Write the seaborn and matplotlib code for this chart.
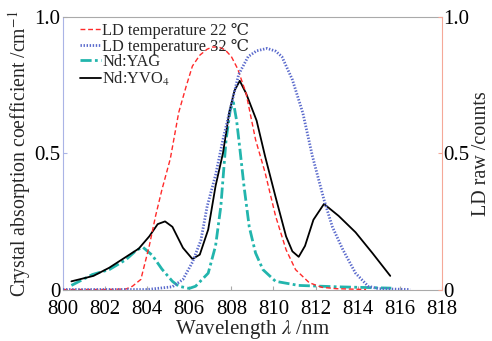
import matplotlib
matplotlib.use("Agg")
import matplotlib.pyplot as plt
import seaborn as sns

# LD spectrum at 22 C (right axis)
x_ld22 = [800.0, 801.0, 802.0, 803.0, 803.3, 803.7, 804.1, 804.4, 804.7, 805.1, 805.5, 805.85,
          806.15, 806.5, 806.85, 807.1, 807.4, 807.7, 808.0, 808.3, 808.7, 809.15, 809.6, 810.1,
          810.6, 811.05, 811.7, 812.3, 813.0, 814.4]
y_ld22 = [0.0, 0.0, 0.0, 0.002, 0.012, 0.037, 0.16, 0.27, 0.366, 0.48, 0.65, 0.745,
          0.82, 0.86, 0.882, 0.89, 0.89, 0.88, 0.855, 0.81, 0.72, 0.55, 0.43, 0.27,
          0.146, 0.073, 0.025, 0.008, 0.003, 0.0]

# LD spectrum at 32 C (right axis)
x_ld32 = [800.0, 802.0, 804.0, 805.2, 805.7, 806.15, 806.55, 806.85, 807.25, 807.6, 808.0, 808.35,
          808.8, 809.2, 809.7, 810.1, 810.4, 810.9, 811.4, 811.85, 812.4, 812.8, 813.3, 813.9,
          814.5, 815.0, 816.5]
y_ld32 = [0.0, 0.0, 0.0, 0.01, 0.037, 0.10, 0.18, 0.305, 0.42, 0.55, 0.68, 0.79,
          0.855, 0.876, 0.885, 0.875, 0.855, 0.77, 0.647, 0.49, 0.33, 0.23, 0.146, 0.06,
          0.012, 0.003, 0.0]

# Nd:YAG absorption (left axis)
x_yag = [800.4, 801.4, 802.2, 803.0, 803.5, 803.8, 804.25, 804.7, 805.2, 805.5, 806.0, 806.3,
         806.9, 807.25, 807.5, 807.75, 807.95, 808.1, 808.25, 808.4, 808.6, 808.85, 809.15, 809.5,
         810.1, 811.2, 813.0, 815.6]
y_yag = [0.015, 0.055, 0.073, 0.11, 0.145, 0.155, 0.125, 0.075, 0.03, 0.012, 0.004, 0.012,
         0.06, 0.16, 0.305, 0.55, 0.66, 0.686, 0.62, 0.52, 0.38, 0.23, 0.134, 0.073,
         0.03, 0.015, 0.01, 0.005]

# Nd:YVO4 absorption (left axis)
x_yvo = [800.4, 801.45, 802.2, 803.0, 803.6, 804.1, 804.5, 804.85, 805.2, 805.7, 806.15, 806.5,
         806.9, 807.25, 807.6, 807.9, 808.15, 808.4, 808.7, 809.2, 809.6, 810.1, 810.6, 810.9,
         811.2, 811.5, 811.9, 812.4, 813.1, 813.9, 814.7, 815.55]
y_yvo = [0.03, 0.05, 0.08, 0.12, 0.15, 0.195, 0.24, 0.25, 0.23, 0.153, 0.112, 0.128,
         0.22, 0.38, 0.50, 0.65, 0.73, 0.766, 0.72, 0.62, 0.49, 0.34, 0.195, 0.14,
         0.12, 0.16, 0.256, 0.314, 0.27, 0.21, 0.134, 0.05]

x_ticks = [800, 802, 804, 806, 808, 810, 812, 814, 816, 818]
y_ticks = [0, 0.5, 1.0]
y_ticklabels = ["0", "0.5", "1.0"]

sns.set_style("ticks")
plt.rcParams["font.family"] = ["Liberation Serif", "DejaVu Serif", "DejaVu Sans"]
plt.rcParams["mathtext.fontset"] = "stix"

fig = plt.figure(figsize=(4.92, 3.41), dpi=100)
ax = fig.add_axes([0.128, 0.151, 0.770, 0.799])
ax2 = ax.twinx()

sns.lineplot(x=x_ld22, y=y_ld22, ax=ax2, color="#ff2a2a", lw=1.0, linestyle=(0, (3.5, 2)),
             label="LD temperature 22 \u2103", legend=False)
sns.lineplot(x=x_ld32, y=y_ld32, ax=ax2, color="#5a6acc", lw=2.0, linestyle=(0, (0.5, 0.6)),
             label="LD temperature 32 \u2103", legend=False)
sns.lineplot(x=x_yag, y=y_yag, ax=ax, color="#22b5ad", lw=2.0, linestyle=(0, (4, 1.2, 1, 1.2)),
             label="Nd:YAG", legend=False)
sns.lineplot(x=x_yvo, y=y_yvo, ax=ax, color="black", lw=1.3,
             label="Nd:YVO$_4$", legend=False)

for a in (ax, ax2):
    a.set_xlim(800, 818)
    a.set_ylim(0, 1.0)
    a.set_yticks(y_ticks)
    a.set_yticklabels(y_ticklabels)

ax.set_xticks(x_ticks)
ax.tick_params(axis="both", direction="in", length=3, labelsize=15)
ax.tick_params(axis="x", colors="#aaaaaa", labelcolor="black", pad=7.5)
ax.tick_params(axis="y", colors="#aab4e6", labelcolor="black", pad=2)
ax2.tick_params(axis="y", direction="in", length=3, labelsize=15, colors="#f5a898",
                labelcolor="black", pad=1)

ax.spines["left"].set_color("#aab4e6")
ax.spines["top"].set_color("#aaaaaa")
ax.spines["bottom"].set_color("#aaaaaa")
ax.spines["right"].set_visible(False)
ax2.spines["right"].set_color("#f5a898")
for s in ("left", "top", "bottom"):
    ax2.spines[s].set_visible(False)

ax.set_xlabel("Wavelength $\\lambda$ /nm", fontsize=15, labelpad=-1)
ax.set_ylabel("Crystal absorption coefficient /cm$^{-1}$", fontsize=14.2, labelpad=1)
ax2.set_ylabel("LD raw /counts", fontsize=14.5, labelpad=2)

h1, l1 = ax2.get_legend_handles_labels()
h2, l2 = ax.get_legend_handles_labels()
ax2.legend(h1 + h2, l1 + l2, loc="upper left", bbox_to_anchor=(0.015, 1.02), frameon=False,
           fontsize=11.8, handlelength=1.25, handletextpad=0.1, labelspacing=-0.03,
           borderpad=0.2)

plt.savefig("out.png", dpi=100)
plt.close()
